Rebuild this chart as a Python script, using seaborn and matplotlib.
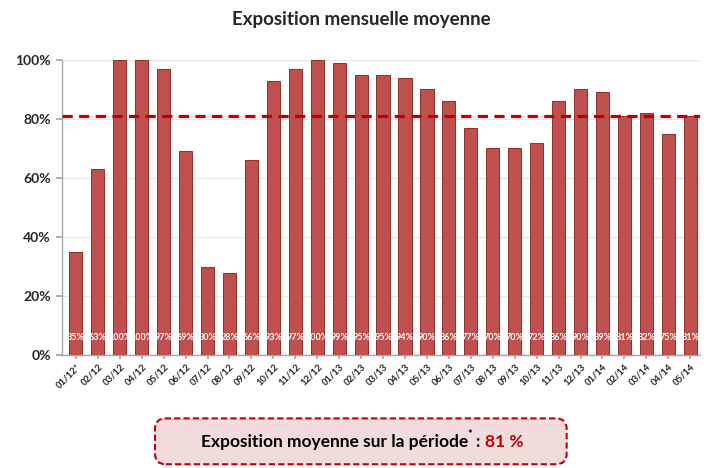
import matplotlib
matplotlib.use("Agg")

import matplotlib.pyplot as plt
import seaborn as sns
import pandas as pd
from matplotlib.patches import FancyBboxPatch
from matplotlib.ticker import PercentFormatter

months = ["01/12*", "02/12", "03/12", "04/12", "05/12", "06/12", "07/12", "08/12",
          "09/12", "10/12", "11/12", "12/12", "01/13", "02/13", "03/13", "04/13",
          "05/13", "06/13", "07/13", "08/13", "09/13", "10/13", "11/13", "12/13",
          "01/14", "02/14", "03/14", "04/14", "05/14"]
exposure = [35, 63, 100, 100, 97, 69, 30, 28, 66, 93, 97, 100, 99, 95, 95, 94,
            90, 86, 77, 70, 70, 72, 86, 90, 89, 81, 82, 75, 81]
mean_exposure = 81

df = pd.DataFrame({"mois": months, "expo": exposure})

sns.set_theme(style="white")
plt.rcParams["font.family"] = ["Lato", "DejaVu Sans"]

fig = plt.figure(figsize=(7.11, 4.68), dpi=100)
ax = fig.add_axes([0.087, 0.241, 0.898, 0.631])

sns.barplot(data=df, x="mois", y="expo", color="#C0504D", saturation=1,
            width=0.6, edgecolor="#8E2F2D", linewidth=0.7, ax=ax, zorder=3)

# moyenne sur la période
ax.axhline(mean_exposure, color="#C00000", lw=2.3, ls=(0, (3.2, 2)), zorder=4)

for i, v in enumerate(exposure):
    ax.text(i, 6, f"{v}%", ha="center", va="center", color="white",
            fontsize=6.5, fontweight="bold", zorder=5)

ax.set_ylim(0, 100)
ax.set_xlim(-0.64, len(months) - 0.54)
ax.set_yticks([0, 20, 40, 60, 80, 100])
ax.yaxis.set_major_formatter(PercentFormatter(decimals=0))
ax.yaxis.grid(True, color="#E6E6E6", lw=1, zorder=0)
ax.set_xlabel("")
ax.set_ylabel("")

for s in ["top", "right"]:
    ax.spines[s].set_visible(False)
for s in ["left", "bottom"]:
    ax.spines[s].set_color("#A6A6A6")
    ax.spines[s].set_linewidth(1)

ax.tick_params(axis="y", labelsize=10, length=4, color="#A6A6A6", left=True, pad=4)
ax.tick_params(axis="x", labelsize=6.8, length=3, color="#A6A6A6", bottom=True, pad=2)
for t in ax.get_yticklabels():
    t.set_fontweight("bold")
for t in ax.get_xticklabels():
    t.set_fontweight("bold")
    t.set_rotation(45)
    t.set_ha("right")
    t.set_rotation_mode("anchor")

fig.text(0.508, 0.958, "Exposition mensuelle moyenne", ha="center", va="center",
         fontsize=13.5, fontweight="bold")

box = FancyBboxPatch((0.218, 0.008), 0.579, 0.098, transform=fig.transFigure,
                     boxstyle="round,pad=0,rounding_size=0.015",
                     facecolor="#F2DCDB", edgecolor="#C00000", lw=1.5,
                     ls=(0, (3, 1.5)), mutation_aspect=1.5)
fig.patches.append(box)

# texte de l'encadré, en morceaux pour l'astérisque en exposant
renderer = fig.canvas.get_renderer()
parts = [("Exposition moyenne sur la période", "black", 12.5, 0.0, 0.0),
         ("*", "black", 8, 0.016, -0.002),
         (":", "black", 12.5, 0.0, 0.005),
         ("81 %", "#C00000", 12.5, 0.0, 0.008)]
texts = []
x = 0.0
for s, c, fs, dy, dx in parts:
    x += dx
    t = fig.text(x, 0.056 + dy, s, color=c, fontsize=fs, fontweight="bold",
                 ha="left", va="center")
    w = t.get_window_extent(renderer).width / fig.bbox.width
    texts.append((t, x, w))
    x += w
total = x
x0 = 0.510 - total / 2
for t, xoff, w in texts:
    t.set_x(x0 + xoff)

fig.savefig("out.png", dpi=100)
